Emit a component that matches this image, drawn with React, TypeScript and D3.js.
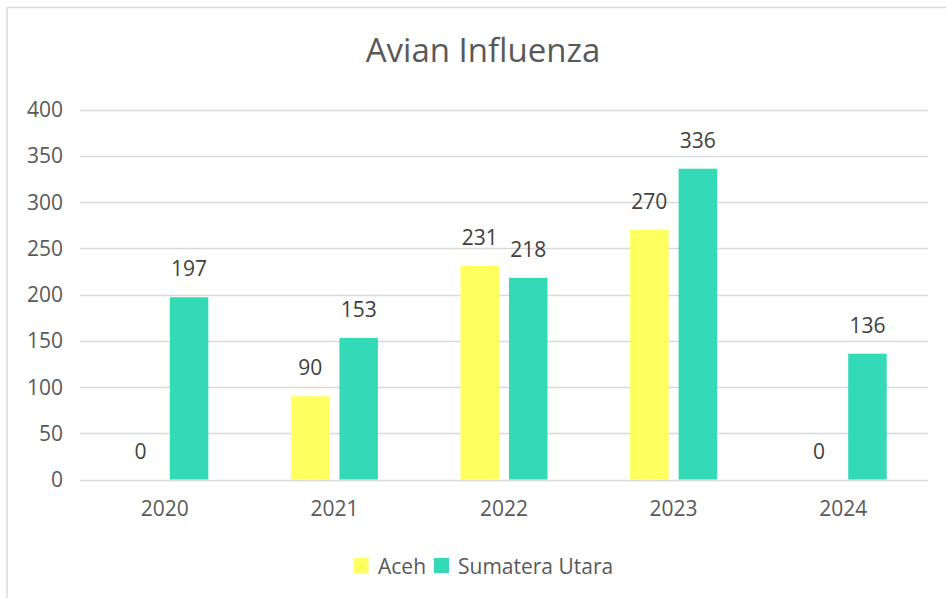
import React from "react";
import * as d3 from "d3";

const years = ["2020", "2021", "2022", "2023", "2024"];
const seriesNames = ["Aceh", "Sumatera Utara"];
const aceh = [0, 90, 231, 270, 0];
const sumut = [197, 153, 218, 336, 136];
const yTicks = [0, 50, 100, 150, 200, 250, 300, 350, 400];
const colors = ["#FFFF5F", "#34D9B6"];
const title = "Avian Influenza";

const W = 946;
const H = 598;
const plot = { left: 80, right: 928, top: 109.5, bottom: 479.5 };
const FONT = "'Open Sans', 'Noto Sans', sans-serif";

export default function App() {
  const x = d3.scaleBand<string>().domain(years).range([plot.left, plot.right]);
  const y = d3.scaleLinear().domain([0, 400]).range([plot.bottom, plot.top]);
  const barW = 38.5;
  const gap = 10;
  const series = [aceh, sumut];

  return (
    <svg
      width={W}
      height={H}
      style={{ position: "absolute", left: 0, top: 0, background: "#fff" }}
      fontFamily={FONT}
    >
      <rect x={0} y={0} width={W} height={H} fill="#fff" />
      <line x1={7} x2={W} y1={7.5} y2={7.5} stroke="#d9d9d9" strokeWidth={1.5} />
      <line x1={7} x2={7} y1={7} y2={H} stroke="#d9d9d9" strokeWidth={1.5} />
      <text x={483} y={62} textAnchor="middle" fontSize={33} fill="#595959">
        {title}
      </text>
      {yTicks.map((t) => (
        <g key={t}>
          <line x1={plot.left} x2={plot.right} y1={Math.round(y(t)) + 0.5} y2={Math.round(y(t)) + 0.5} stroke="#d9d9d9" strokeWidth={1.3} />
          <text x={63} y={y(t) + 7.5} textAnchor="end" fontSize={21} fill="#595959">
            {t}
          </text>
        </g>
      ))}
      {years.map((yr, i) => {
        const c = (x(yr) as number) + x.bandwidth() / 2;
        return (
          <g key={yr}>
            <text x={c} y={516} textAnchor="middle" fontSize={21} fill="#595959">
              {yr}
            </text>
            {series.map((s, si) => {
              const bx = si === 0 ? c - gap / 2 - barW : c + gap / 2;
              const v = s[i];
              return (
                <g key={si}>
                  {v > 0 && (
                    <rect x={bx} y={y(v)} width={barW} height={y(0) - y(v)} fill={colors[si]} />
                  )}
                  <text x={bx + barW / 2} y={y(v) - 21} textAnchor="middle" fontSize={21} fill="#404040">
                    {v}
                  </text>
                </g>
              );
            })}
          </g>
        );
      })}
      <g>
        <rect x={353.5} y={558} width={15} height={15} fill={colors[0]} />
        <text x={378} y={573.5} fontSize={21} fill="#595959">{seriesNames[0]}</text>
        <rect x={434} y={558} width={15} height={15} fill={colors[1]} />
        <text x={458} y={573.5} fontSize={21} fill="#595959">{seriesNames[1]}</text>
      </g>
    </svg>
  );
}
